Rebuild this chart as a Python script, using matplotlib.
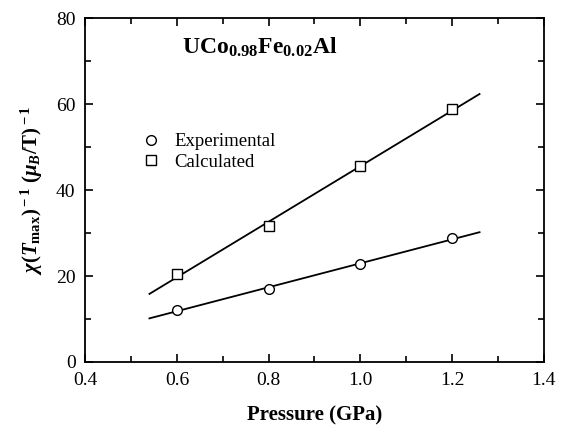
import numpy as np
import matplotlib
matplotlib.use('Agg')
import matplotlib.pyplot as plt

# pressure (GPa) and inverse susceptibility at T_max
pressure = [0.6, 0.8, 1.0, 1.2]
experimental = [12.1, 17.1, 22.7, 28.8]
calculated = [20.4, 31.6, 45.6, 58.8]
fit_range = [0.54, 1.26]

plt.rcParams['font.family'] = 'Liberation Serif'
plt.rcParams['mathtext.fontset'] = 'custom'
plt.rcParams['mathtext.rm'] = 'Liberation Serif:bold'
plt.rcParams['mathtext.it'] = 'Liberation Serif:bold:italic'
plt.rcParams['mathtext.bf'] = 'Liberation Serif:bold'

fig = plt.figure(figsize=(5.76, 4.33), dpi=100)
ax = fig.add_axes([0.148, 0.164, 0.796, 0.794])

xf = np.array(fit_range)
for ys in (experimental, calculated):
    k, b = np.polyfit(pressure, ys, 1)
    ax.plot(xf, k * xf + b, color='black', lw=1.3, zorder=1)

ax.plot(pressure, experimental, 'o', ms=7, mfc='white', mec='black', mew=1.0,
        label='Experimental', zorder=2)
ax.plot(pressure, calculated, 's', ms=6.5, mfc='white', mec='black', mew=1.0,
        label='Calculated', zorder=2)

ax.set_xlim(0.4, 1.4)
ax.set_ylim(0, 80)
ax.set_xticks(np.arange(0.4, 1.41, 0.2))
ax.set_xticks(np.arange(0.5, 1.4, 0.2), minor=True)
ax.set_yticks(np.arange(0, 81, 20))
ax.set_yticks(np.arange(10, 80, 20), minor=True)
ax.xaxis.set_major_formatter(plt.FormatStrFormatter('%.1f'))
ax.tick_params(which='both', direction='in', top=True, right=True, labelsize=14, width=1.2)
ax.tick_params(which='major', length=6, pad=7)
ax.tick_params(which='minor', length=4)
for s in ax.spines.values():
    s.set_linewidth(1.3)

ax.set_xlabel('Pressure (GPa)', fontsize=15, fontweight='bold', labelpad=12)
ax.set_ylabel(r'$\chi(T_{\rm max})^{\rm -1}\ (\mu_B/{\rm T})^{\rm -1}$', fontsize=15, labelpad=8)

ax.text(0.38, 0.915, r'UCo$_{\rm 0.98}$Fe$_{\rm 0.02}$Al', transform=ax.transAxes,
        fontsize=17, fontweight='bold', ha='center', va='center')

ax.legend(loc='upper left', bbox_to_anchor=(0.075, 0.715), frameon=False, fontsize=13.5,
          handletextpad=0.5, handlelength=1.5, labelspacing=0.2)

fig.savefig('out.png', dpi=100)
